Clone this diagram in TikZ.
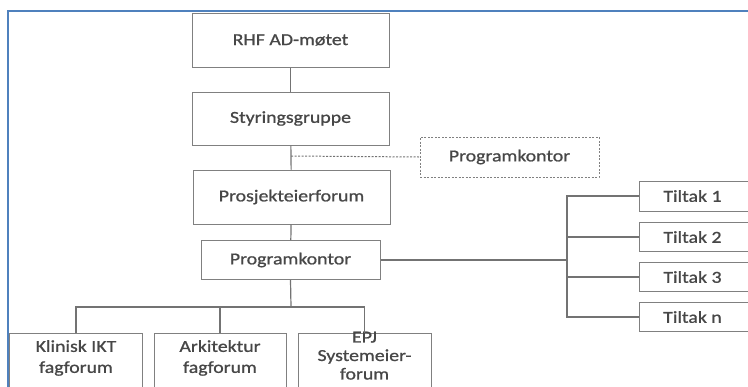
\documentclass[tikz,border=0pt]{standalone}
\usepackage{fontspec}
\setmainfont{Carlito}[FakeStretch=1.18,FakeBold=0.9]
\begin{document}
\begin{tikzpicture}[x=1bp,y=-1bp,
  txt/.style={font=\fontsize{16.8bp}{21bp}\selectfont,text=black!72,align=center},
  box/.style={txt,draw=black!50,line width=1bp,fill=white,inner sep=0pt},
  conn/.style={draw=black!55,line width=1.2bp},
  dbox/.style={box,dash pattern=on 2bp off 1.5bp,line width=1bp}]
\useasboundingbox (0,0) rectangle (748,386);
\begin{scope}
\clip (0,0) rectangle (748,386);
\draw[draw={rgb,255:red,79;green,129;blue,189},line width=2bp] (8,11) rectangle (800,450);
\node[box,minimum width=197bp,minimum height=54bp] (rhf) at (290.5,40) {RHF AD-møtet};
\node[box,minimum width=197bp,minimum height=53bp] (sty) at (290.5,118.5) {Styringsgruppe};
\node[dbox,minimum width=179bp,minimum height=40bp] (pk1) at (509.5,157) {Programkontor};
\node[box,minimum width=197bp,minimum height=54bp] (pef) at (291.5,197) {Prosjekteierforum};
\node[box,minimum width=179bp,minimum height=39bp] (pk) at (290.5,260) {Programkontor};
\node[box,minimum width=130bp,minimum height=30bp,anchor=west] (t1) at (639,196) {\hspace*{-24bp}Tiltak 1};
\node[box,minimum width=130bp,minimum height=29bp,anchor=west] (t2) at (639,237) {\hspace*{-24bp}Tiltak 2};
\node[box,minimum width=130bp,minimum height=29bp,anchor=west] (t3) at (639,277) {\hspace*{-24bp}Tiltak 3};
\node[box,minimum width=130bp,minimum height=29bp,anchor=west] (tn) at (639,317) {\hspace*{-24bp}Tiltak n};
\node[box,minimum width=132bp,minimum height=70bp,anchor=north] (kl) at (76,333) {};
\node[box,minimum width=132bp,minimum height=70bp,anchor=north] (ar) at (220,333) {};
\node[box,minimum width=133bp,minimum height=70bp,anchor=north] (epj) at (364.5,333) {};
\node[txt,anchor=north,inner sep=0pt] (klt) at (76,340) {Klinisk IKT\\fagforum};
\node[txt,anchor=north,inner sep=0pt] (art) at (220,340) {Arkitektur\\fagforum};
\node[txt,anchor=north,inner sep=0pt,font=\fontsize{16.8bp}{18.5bp}\selectfont] (epjt) at (364.5,331.5) {EPJ\\Systemeier-\\forum};
\coordinate (bus) at (567,260);
\coordinate (bot) at (291,307);
\coordinate (dj) at (291,156);
\end{scope}
\draw[conn] (rhf) -- (sty);
\draw[conn] (sty) -- (pef);
\draw[conn,dash pattern=on 2bp off 1.5bp,line width=1bp] (dj) -- (pk1.west);
\draw[conn] (pef) -- (pk);
\draw[conn] (pk.east) -- (bus);
\draw[conn] (t1.west) -| (bus) |- (tn.west);
\draw[conn] (bus |- t2.west) -- (t2.west);
\draw[conn] (bus |- t3.west) -- (t3.west);
\draw[conn] (pk.south) -- (bot);
\draw[conn] (kl.north) |- (bot) -| (epj.north);
\draw[conn] (ar.north) -- (ar.north |- bot);
\end{tikzpicture}
\end{document}
